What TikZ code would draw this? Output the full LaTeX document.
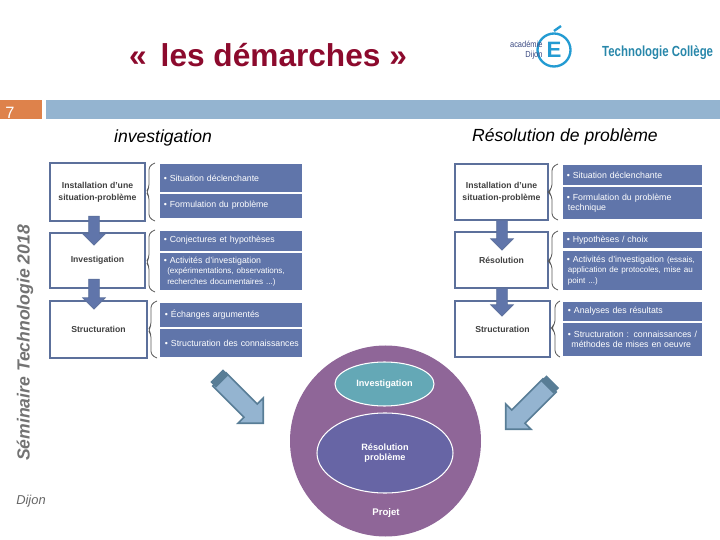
\documentclass[tikz,border=0pt]{standalone}
\usepackage{fontspec}
\setmainfont{Liberation Sans}
\usetikzlibrary{shapes.arrows,shapes.geometric}
\definecolor{titlered}{RGB}{140,10,45}
\definecolor{slateblue}{RGB}{96,117,170}
\definecolor{boxline}{RGB}{92,112,155}
\definecolor{barblue}{RGB}{148,180,208}
\definecolor{barorange}{RGB}{222,130,75}
\definecolor{projetmauve}{RGB}{143,102,152}
\definecolor{investteal}{RGB}{100,168,182}
\definecolor{resolviolet}{RGB}{103,101,165}
\definecolor{logoblue}{RGB}{35,155,210}
\definecolor{logonavy}{RGB}{60,75,130}
\definecolor{logoteal}{RGB}{40,135,170}
\definecolor{bigarrowtail}{RGB}{88,125,150}
\newcommand{\notesize}{\fontsize{6.9}{8.5}\selectfont}
\tikzset{
  stagebox/.style={draw=boxline,line width=1.2pt,fill=white,font=\fontsize{7.4}{10}\selectfont\bfseries,text=black!75,align=center,inner sep=0pt},
  itembox/.style={fill=slateblue,text=white,font=\fontsize{7.5}{9}\selectfont,align=left,anchor=west,inner sep=0pt},
  downarrow/.style={single arrow,draw=boxline,fill=slateblue,line width=.6pt,rotate=-90,inner xsep=0pt,inner ysep=5*.03cm,minimum width=22*.03cm,single arrow head extend=6*.03cm},
  bigarrow/.style={single arrow,draw=bigarrowtail,line width=1.4pt,fill=barblue,inner xsep=0pt,inner ysep=8.5*.03cm,minimum height=62*.03cm,minimum width=34*.03cm,single arrow head extend=8.5*.03cm},
  tailband/.style={fill=bigarrowtail,inner sep=0pt,minimum width=8*.03cm,minimum height=18*.03cm},
  openbrace/.style={draw=black!65,line width=.7pt,rounded corners=3pt},
  bubble/.style={ellipse,draw=white,line width=.9pt,text=white,align=center,inner sep=0pt,font=\fontsize{7.8}{9}\selectfont\bfseries},
}
\newcommand{\stagerow}[5]{\node[itembox,minimum width=#3*.03cm,minimum height=#4*.03cm,text width=#3*.03cm] (#1) at #2 {\hspace*{3pt}#5};}
\begin{document}
\begin{tikzpicture}[x=.03cm,y=-.03cm]
\useasboundingbox (0,0) rectangle (720,540);
% title and logo
\node[text=titlered,font=\fontsize{27}{30}\selectfont\bfseries] (title) at (268,55) {«\, les démarches »};
\node[draw=logoblue,line width=2pt,circle,minimum size=33*.03cm,inner sep=0pt,text=logoblue,font=\fontsize{19}{20}\selectfont\bfseries] (logoE) at (554,50) {E};
\draw[logoblue,line width=2pt] (554,31) -- (561,26);
\node[anchor=east,text=logonavy,font=\fontsize{7.5}{8}\selectfont,xscale=.85] (logoA) at (546,44) {académie};
\node[anchor=east,text=logonavy,font=\fontsize{7.5}{8}\selectfont,xscale=.85] (logoD) at (546,55) {Dijon};
\node[anchor=west,text=logoteal,font=\fontsize{12.5}{14}\selectfont\bfseries,xscale=.78] (logoT) at (599,53) {Technologie Collège};
% header bars
\node[fill=barorange,minimum width=42*.03cm,minimum height=19*.03cm,inner sep=0pt] (numbar) at (21,109.5) {};
\node[fill=barblue,minimum width=674*.03cm,minimum height=19*.03cm,inner sep=0pt] (headbar) at (383,109.5) {};
\node[text=white,font=\fontsize{14}{15}\selectfont] (num) at (10,113) {7};
% side texts
\node[font=\fontsize{15}{17}\selectfont\itshape] (titleinv) at (163,138) {investigation};
\node[font=\fontsize{15}{17}\selectfont\itshape] (titleres) at (565,137) {Résolution de problème};
\node[rotate=90,font=\fontsize{15}{17}\selectfont\itshape\bfseries,text=black!55] (sem) at (25,343) {Séminaire Technologie 2018};
\node[font=\fontsize{11}{13}\selectfont\itshape,text=black!60] (dijon) at (31,501) {Dijon};
% left column
\node[stagebox,minimum width=95*.03cm,minimum height=58*.03cm] (i1) at (97.5,192) {Installation d'une\\situation-problème};
\node[stagebox,minimum width=95*.03cm,minimum height=55*.03cm] (i2) at (97.5,260.5) {Investigation};
\node[stagebox,minimum width=97*.03cm,minimum height=57*.03cm] (i3) at (98.5,329.5) {Structuration};
\stagerow{ia}{(160,178)}{142}{28}{• Situation déclenchante}
\stagerow{ib}{(160,206)}{142}{24}{\raisebox{2.5pt}{• Formulation du problème}}
\stagerow{ic}{(160,241)}{142}{20}{\raisebox{2.5pt}{• Conjectures et hypothèses}}
\stagerow{id}{(160,271.5)}{142}{37}{• Activités d'investigation\\\hspace*{6pt}\notesize (expérimentations, observations,\\\hspace*{6pt}recherches documentaires ...)}
\stagerow{ie}{(160,315)}{142}{24}{\hspace*{1pt}\raisebox{-1.5pt}{• Échanges argumentés}}
\stagerow{if}{(160,343)}{142}{28}{\hspace*{1pt}• Structuration des connaissances}
\node[downarrow,minimum height=29*.03cm] (ia1) at (94,228) {};
\node[downarrow,minimum height=30*.03cm] (ia2) at (94,291.5) {};
\draw[openbrace] (155,163) -- (149,166) -- (149,188) -- (146,192) -- (149,196) -- (149,218) -- (155,221);
\draw[openbrace] (155,230) -- (149,233) -- (149,258) -- (146,262) -- (149,266) -- (149,289) -- (155,292);
\draw[openbrace] (157,301) -- (151,304) -- (151,326) -- (148,330) -- (151,334) -- (151,355) -- (157,358);
% right column
\node[stagebox,minimum width=93*.03cm,minimum height=56*.03cm] (r1) at (501.5,192) {Installation d'une\\situation-problème};
\node[stagebox,minimum width=93*.03cm,minimum height=56*.03cm] (r2) at (501.5,260) {Résolution};
\node[stagebox,minimum width=95*.03cm,minimum height=56*.03cm] (r3) at (502.5,329) {Structuration};
\stagerow{ra}{(563,175)}{139}{20}{• Situation déclenchante}
\stagerow{rb}{(563,203)}{139}{32}{• Formulation du problème\\\hspace*{4pt}technique}
\stagerow{rc}{(563,240)}{139}{16}{• Hypothèses / choix}
\stagerow{rd}{(563,270.5)}{139}{39}{• Activités d'investigation \notesize (essais,\\\hspace*{4pt}application de protocoles, mise au\\\hspace*{4pt}point ...)}
\stagerow{re}{(563,311.5)}{139}{19}{\hspace*{1pt}• Analyses des résultats}
\stagerow{rf}{(563,339.5)}{139}{33}{\hspace*{1pt}• Structuration : connaissances /\\\hspace*{7pt}méthodes de mises en oeuvre}
\node[downarrow,minimum height=30*.03cm] (ra1) at (502,232.5) {};
\node[downarrow,minimum height=28*.03cm] (ra2) at (502,299.5) {};
\draw[openbrace] (558,164) -- (552,167) -- (552,188) -- (548,192) -- (552,196) -- (552,217) -- (558,220);
\draw[openbrace] (558,231) -- (552,234) -- (552,257) -- (548,261) -- (552,265) -- (552,287) -- (558,290);
\draw[openbrace] (560,301) -- (555,304) -- (555,324) -- (551,328) -- (555,332) -- (555,354) -- (560,357);
% project circles
\node[circle,fill=projetmauve,minimum size=191*.03cm,inner sep=0pt] (projet) at (385.5,441) {};
\node[bubble,fill=investteal,minimum width=99*.03cm,minimum height=44*.03cm] (binv) at (384.5,384) {Investigation};
\node[bubble,fill=resolviolet,minimum width=136*.03cm,minimum height=80*.03cm] (bres) at (385,453) {Résolution\\problème};
\node[text=white,font=\fontsize{8.2}{9}\selectfont\bfseries] (bproj) at (386,513) {Projet};
% big arrows
\node[bigarrow,rotate=-45] (al) at (238,398) {};
\node[tailband,rotate=-45] (albd) at (219.5,378.5) {};
\node[bigarrow,rotate=-135] (ar) at (531,404) {};
\node[tailband,rotate=-135] (arbd) at (550,384.5) {};
\end{tikzpicture}
\end{document}
